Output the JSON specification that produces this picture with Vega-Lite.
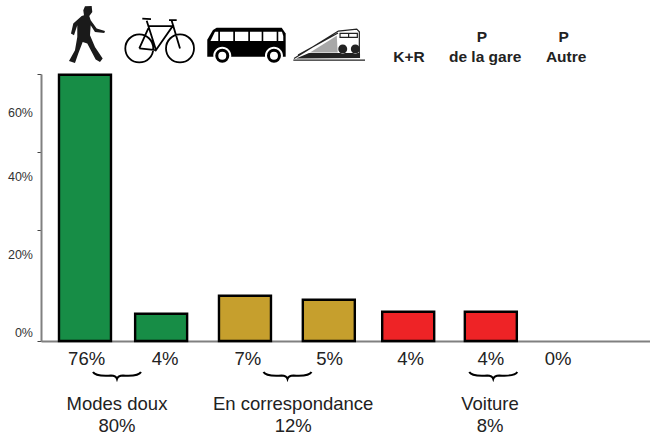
{"$schema":"https://vega.github.io/schema/vega-lite/v6.json","width":609,"height":267,"autosize":{"type":"none"},"padding":{"left":41,"top":74,"right":0,"bottom":94},"background":"white","config":{"view":{"stroke":null},"text":{"font":"Liberation Sans"}},
"datasets":{
"modes":[{"mode":"Marche","part":"76%","hauteur":68.3,"rang":1,"rangTexte":1.02,"niveau":-4.5,"couleur":"vert"},{"mode":"Vélo","part":"4%","hauteur":7.0,"rang":1.94,"rangTexte":1.99,"niveau":-4.5,"couleur":"vert"},{"mode":"Bus","part":"7%","hauteur":11.6,"rang":2.975,"rangTexte":3.01,"niveau":-4.5,"couleur":"or"},{"mode":"Train","part":"5%","hauteur":10.6,"rang":4.01,"rangTexte":4.02,"niveau":-4.5,"couleur":"or"},{"mode":"K+R","part":"4%","hauteur":7.5,"rang":4.99,"rangTexte":5.02,"niveau":-4.5,"couleur":"rouge"},{"mode":"P de la gare","part":"4%","hauteur":7.5,"rang":6.01,"rangTexte":6.01,"niveau":-4.5,"couleur":"rouge"},{"mode":"P Autre","part":"0%","hauteur":0,"rang":6.9,"rangTexte":6.84,"niveau":-4.5,"couleur":"rouge"}],
"groupes":[{"groupe":"Modes doux","total":"80%","rang":1.395,"rangAccolade":1.395,"niveauGroupe":-16.1,"niveauTotal":-21.8,"niveauAccolade":-8.85},{"groupe":"En correspondance","total":"12%","rang":3.57,"rangAccolade":3.5,"niveauGroupe":-16.1,"niveauTotal":-21.8,"niveauAccolade":-8.85},{"groupe":"Voiture","total":"8%","rang":6.0,"rangAccolade":6.04,"niveauGroupe":-16.1,"niveauTotal":-21.8,"niveauAccolade":-8.85}],
"entetes":[{"texte":"K+R","rang":5.0,"niveau":72.8},{"texte":"P","rang":5.9,"niveau":78},{"texte":"de la gare","rang":5.94,"niveau":72.8},{"texte":"P","rang":6.91,"niveau":78},{"texte":"Autre","rang":6.94,"niveau":72.8}],
"echelle":[{"texte":"60%","niveau":58.5,"rang":0.358},{"texte":"40%","niveau":42.05,"rang":0.358},{"texte":"20%","niveau":22.05,"rang":0.358},{"texte":"0%","niveau":2.05,"rang":0.358}],
"pieton":[{"rang":1,"niveau":78.2}],"velo":[{"rang":1.926,"niveau":77.2}],"bus":[{"rang":2.975,"niveau":77.2}],"train":[{"rang":4.025,"niveau":77.2}]
},
"data":{"name":"modes"},
"encoding":{"x":{"field":"rang","type":"quantitative","scale":{"domain":[0.457,7.975],"nice":false,"zero":false,"padding":0},"axis":{"title":null,"labels":false,"ticks":false,"grid":false,"domainColor":"#808080","domainWidth":2}},"y":{"field":"niveau","type":"quantitative","scale":{"domain":[0,68.5],"nice":false,"zero":false},"axis":{"title":null,"values":[0,28.5,48.5,68.5],"labels":false,"grid":false,"tickColor":"#444444","tickSize":4,"tickWidth":1,"domainColor":"#808080","domainWidth":2}}},
"layer":[
{"transform":[{"filter":"datum.hauteur > 0"}],"mark":{"type":"bar","width":52,"stroke":"#000000","strokeWidth":2.4},"encoding":{"y":{"field":"hauteur","type":"quantitative"},"color":{"field":"couleur","type":"nominal","legend":null,"scale":{"domain":["vert","or","rouge"],"range":["#178D46","#C69F2D","#EE2326"]}}}},
{"mark":{"type":"text","fontSize":18.5,"fill":"#222222","align":"center","baseline":"middle"},"encoding":{"x":{"field":"rangTexte","type":"quantitative"},"text":{"field":"part"}}},
{"data":{"name":"groupes"},"mark":{"type":"text","fontSize":18.5,"fill":"#222222","align":"center","baseline":"middle"},"encoding":{"y":{"field":"niveauGroupe","type":"quantitative"},"text":{"field":"groupe"}}},
{"data":{"name":"groupes"},"mark":{"type":"text","fontSize":18.5,"fill":"#222222","align":"center","baseline":"middle"},"encoding":{"y":{"field":"niveauTotal","type":"quantitative"},"text":{"field":"total"}}},
{"data":{"name":"groupes"},"mark":{"type":"point","filled":false,"opacity":1,"size":4,"stroke":"#000000","strokeWidth":2,"shape":"M-24 -3.5C-22 0.5 -14 0.5 -6 0C-3 0 -1 0.5 0 3.5C1 0.5 3 0 6 0C14 0.5 22 0.5 24 -3.5"},"encoding":{"x":{"field":"rangAccolade","type":"quantitative"},"y":{"field":"niveauAccolade","type":"quantitative"}}},
{"data":{"name":"entetes"},"mark":{"type":"text","fontSize":15.5,"fontWeight":"bold","fill":"#222222","align":"center","baseline":"middle"},"encoding":{"text":{"field":"texte"}}},
{"data":{"name":"echelle"},"mark":{"type":"text","fontSize":12.5,"fill":"#333333","align":"right","baseline":"middle"},"encoding":{"text":{"field":"texte"}}},
{"data":{"name":"pieton"},"mark":{"type":"point","filled":true,"opacity":1,"size":4,"fill":"#1a1a1a","stroke":null,"shape":"M0 -30L6.7 -30.3L7.3 -24.3L4.3 -20.3L5.7 -16L11.7 -7.7L20 -5.3L19.3 -3.3L10 -4.3L5.7 -11L5 -1L10 10.7L17.7 22.3L15 25.7L10.7 23.3L2.3 7.3L-2.3 5.7L-6.7 17.3L-10 26.7L-16 24.7L-10 14L-7.7 0.7L-7.7 -11L-11 -1L-14 -2.7L-11.7 -12.7L-3.3 -20.3L-1 -21L-1.7 -26Z"}},
{"data":{"name":"velo"},"mark":{"type":"point","filled":false,"opacity":1,"size":4,"stroke":"#000000","strokeWidth":1.8,"shape":"M-34.7 8.3a14 14 0 1 0 28 0a14 14 0 1 0 -28 0M6 8.3a14 14 0 1 0 28 0a14 14 0 1 0 -28 0M-13.3 -19.3L-4 10L12.7 -14L-11 -14M-20.7 8.3L-4 10M-20.7 8.3L-11.7 -11.7M11.7 -19.3L20 8.3M9 -20L16.7 -20M-17.7 -21.5L-9 -21"}},
{"data":{"name":"bus"},"mark":{"type":"point","filled":true,"opacity":1,"size":4,"fill":"#000000","stroke":null,"shape":"M-37.7 16.7L-37.7 -0.3L-32 -10L-28.3 -12.3L36.7 -12.3L40.7 -6.7L40.7 16.7Z"}},
{"data":{"name":"bus"},"mark":{"type":"point","filled":true,"opacity":1,"size":4,"fill":"#FFFFFF","stroke":null,"shape":"M-34.5 1L-30 -8.3L-26.7 -8.3L-26.7 1ZM-25 -8.3L-11.7 -8.3L-11.7 1L-25 1ZM-10 -8.3L3.3 -8.3L3.3 1L-10 1ZM5 -8.3L16.7 -8.3L16.7 1L5 1ZM18.3 -8.3L31.7 -8.3L31.7 1L18.3 1ZM33.3 -8.3L37 -8.3L38.3 -4L38.3 1L33.3 1ZM-31.7 15.7a9 9 0 1 0 18 0a9 9 0 1 0 -18 0M20 15.7a9 9 0 1 0 18 0a9 9 0 1 0 -18 0"}},
{"data":{"name":"bus"},"mark":{"type":"point","filled":false,"opacity":1,"size":4,"stroke":"#000000","strokeWidth":3,"shape":"M-28.2 15.7a5.5 5.5 0 1 0 11 0a5.5 5.5 0 1 0 -11 0M23.5 15.7a5.5 5.5 0 1 0 11 0a5.5 5.5 0 1 0 -11 0"}},
{"data":{"name":"train"},"mark":{"type":"point","filled":true,"opacity":1,"size":4,"fill":"#A8A8A8","stroke":null,"shape":"M-20 12.3L6.7 -4.3L7.7 12.3Z"}},
{"data":{"name":"train"},"mark":{"type":"point","filled":true,"opacity":1,"size":4,"fill":"#222222","stroke":null,"shape":"M-34 18.5L-21 13L30 13L30 18ZM8.2 9a4.5 4.5 0 1 0 9 0a4.5 4.5 0 1 0 -9 0M20.8 9a4.5 4.5 0 1 0 9 0a4.5 4.5 0 1 0 -9 0"}},
{"data":{"name":"train"},"mark":{"type":"point","filled":false,"opacity":1,"size":4,"stroke":"#222222","strokeWidth":1.2,"shape":"M-36 18.5L8.3 -9L26.7 -11L29.3 -8.3L29.3 16.7M-36.7 20L35 20M10 -6.7L27.3 -6.7L27.3 -2.7L10 -2.7ZM18.6 -6.7L18.6 -2.7M-32 15L8 -7"}}
]}
